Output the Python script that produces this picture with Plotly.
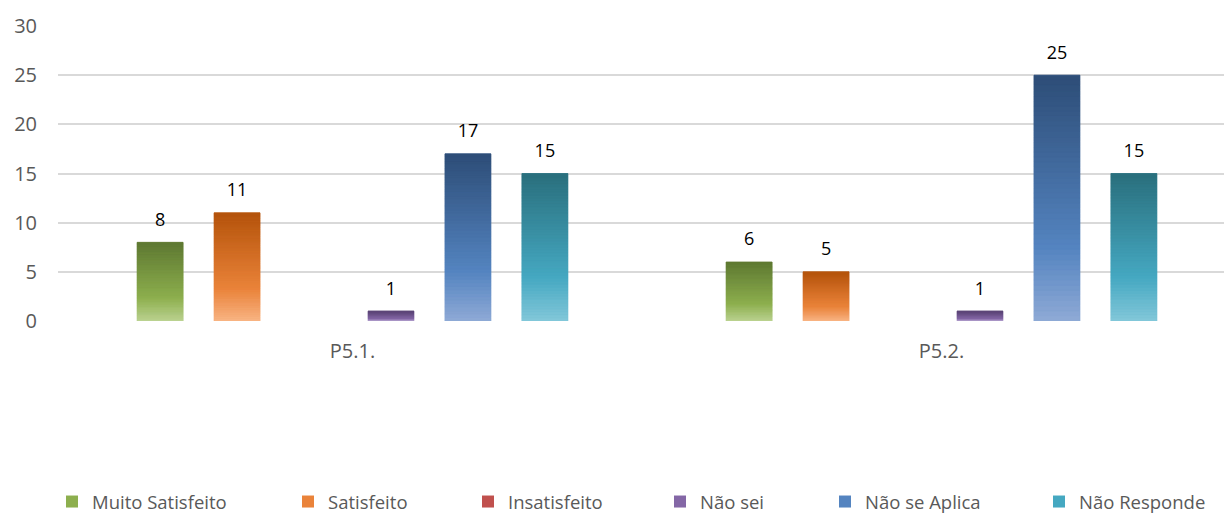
import plotly.graph_objects as go

# ---- data -------------------------------------------------------------
categories = ["P5.1.", "P5.2."]
series_names = ["Muito Satisfeito", "Satisfeito", "Insatisfeito",
                "Não sei", "Não se Aplica", "Não Responde"]
muito_satisfeito = [8, 6]
satisfeito = [11, 5]
insatisfeito = [0, 0]
nao_sei = [1, 1]
nao_se_aplica = [17, 25]
nao_responde = [15, 15]
y_ticks = [0, 5, 10, 15, 20, 25, 30]

series_values = [muito_satisfeito, satisfeito, insatisfeito,
                 nao_sei, nao_se_aplica, nao_responde]

# ---- style ------------------------------------------------------------
# (top, base, bottom) colours of each bar's vertical gradient
palettes = [
    ("#5E7832", "#8DAF4E", "#BCD392"),
    ("#B4530B", "#EA833A", "#F9B585"),
    ("#8E3431", "#C0504D", "#DE9C9A"),
    ("#5B4577", "#8467A6", "#C1B2D9"),
    ("#2D4D77", "#5484C0", "#8FAAD6"),
    ("#2A6F7D", "#45A8C1", "#84C8DA"),
]
legend_left_px = [68, 304, 484, 676, 841, 1055]

FONT = "Open Sans"
GREY = "#595959"
W, H = 1224, 513
N_SEG = 48          # slices used to paint the gradient
LABEL_SPAN = 4.8    # value-label box height (axis units) above each bar


def hex_rgb(h):
    h = h.lstrip("#")
    return [int(h[i:i + 2], 16) for i in (0, 2, 4)]


def shade(pal, t):
    """t = 0 at the bar top, 1 at the bar bottom."""
    top, base, bot = (hex_rgb(c) for c in pal)
    if t <= 0.7:
        a, b, f = top, base, t / 0.7
    else:
        a, b, f = base, bot, (t - 0.7) / 0.3
    c = [round(a[i] + (b[i] - a[i]) * f) for i in range(3)]
    return f"rgb({c[0]},{c[1]},{c[2]})"


fig = go.Figure()

for i, (name, vals, pal) in enumerate(zip(series_names, series_values, palettes)):
    grp = str(i)
    legend_id = "legend" if i == 0 else f"legend{i + 1}"
    # full bar: carries the legend entry
    fig.add_trace(go.Bar(
        x=categories, y=vals, name=name, offsetgroup=grp,
        marker=dict(color=pal[1], line=dict(width=0)),
        legend=legend_id, hoverinfo="x+y+name",
    ))
    # gradient slices painted over the bar, from the bottom up
    seam = [0.8 if v else 0 for v in vals]
    for k in range(N_SEG):
        t = 1 - (k + 0.5) / N_SEG
        col = shade(pal, t)
        fig.add_trace(go.Bar(
            x=categories, y=[v / N_SEG for v in vals],
            base=[v * k / N_SEG for v in vals],
            offsetgroup=grp, showlegend=False, hoverinfo="skip",
            marker=dict(color=col, line=dict(width=seam, color=col)),
        ))
    # value labels, centred a little above each bar
    fig.add_trace(go.Bar(
        x=categories, y=[LABEL_SPAN] * len(vals), base=vals,
        offsetgroup=grp, showlegend=False, hoverinfo="skip",
        marker=dict(color="rgba(0,0,0,0)", line=dict(width=0)),
        text=[str(v) if v else "" for v in vals],
        textposition="inside", insidetextanchor="middle",
        textangle=0, constraintext="none",
        insidetextfont=dict(family=FONT, size=18, color="#000000"),
    ))

layout_legends = {}
for i, px in enumerate(legend_left_px):
    key = "legend" if i == 0 else f"legend{i + 1}"
    layout_legends[key] = dict(
        orientation="h", xref="container", yref="container",
        x=(px - 16) / W, xanchor="left",
        y=1 - 502 / H, yanchor="middle",
        font=dict(family=FONT, size=18.5, color=GREY),
        bgcolor="rgba(0,0,0,0)",
    )

fig.update_layout(
    width=W, height=H,
    margin=dict(l=58, r=0, t=26, b=192),
    paper_bgcolor="white", plot_bgcolor="white",
    barmode="group", bargap=0.216, bargroupgap=0.403,
    font=dict(family=FONT, color=GREY),
    xaxis=dict(
        type="category", range=[-0.5, -0.5 + (W - 58) / 589],
        showgrid=False, showline=False, zeroline=False, ticks="",
        tickfont=dict(family=FONT, size=20, color=GREY),
        ticklabelstandoff=16,
    ),
    yaxis=dict(
        range=[0, 30], tickvals=y_ticks,
        showgrid=True, gridcolor="#D9D9D9", gridwidth=2,
        zeroline=False, showline=False, ticks="",
        tickfont=dict(family=FONT, size=20, color=GREY),
        ticklabelstandoff=20,
    ),
    **layout_legends,
)

fig.write_html("out.html")
